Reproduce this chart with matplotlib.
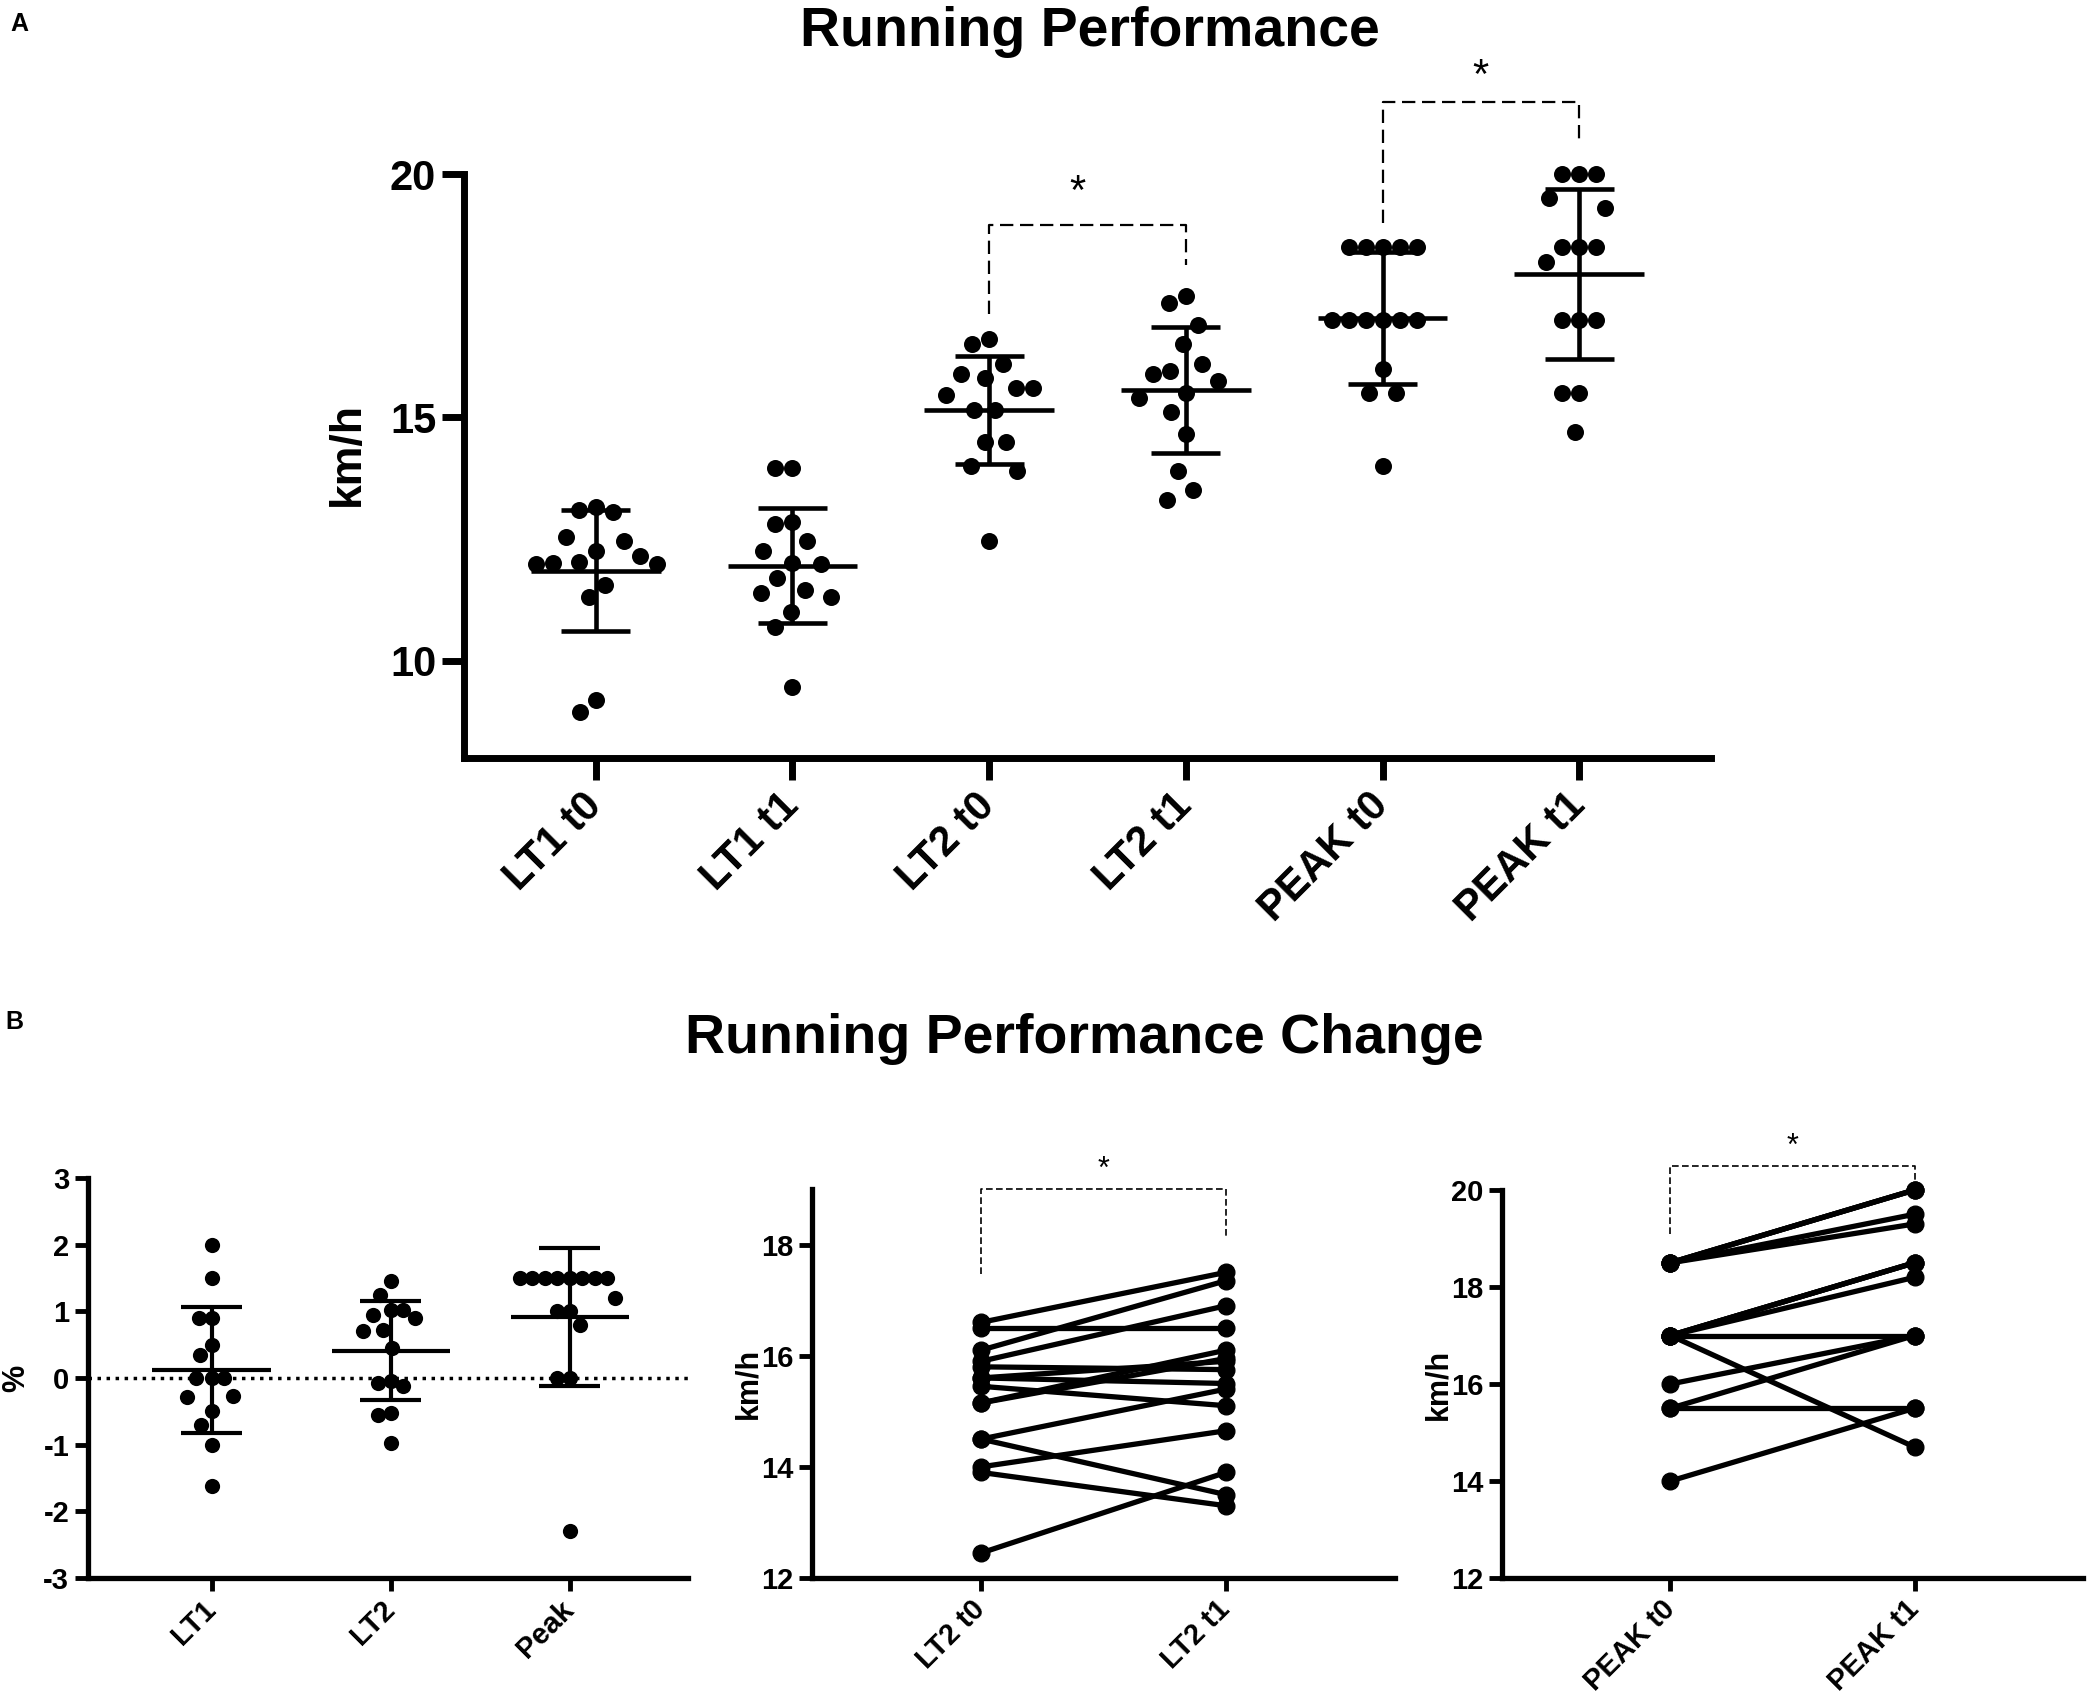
import numpy as np
import matplotlib
matplotlib.use('Agg')
import matplotlib.pyplot as plt

plt.rcParams['font.family'] = ['Liberation Sans', 'DejaVu Sans']
plt.rcParams['font.weight'] = 'bold'
plt.rcParams['axes.unicode_minus'] = False

# ---------------- data ----------------
top_categories = ['LT1 t0', 'LT1 t1', 'LT2 t0', 'LT2 t1', 'PEAK t0', 'PEAK t1']
lt1_t0 = [13.1, 13.05, 13.15, 12.45, 12.55, 12.25, 12.15, 12.0, 11.98, 11.98, 12.03, 11.55, 11.3, 8.95, 9.2]
lt1_t1 = [13.95, 13.95, 12.8, 12.85, 12.45, 12.25, 12.0, 11.98, 11.7, 11.45, 11.4, 11.3, 11.0, 10.7, 9.45]
# LT2 and PEAK listed per subject (paired t0 / t1)
lt2_t0 = [16.6, 16.5, 16.1, 15.9, 15.8, 15.6, 15.6, 15.45, 15.15, 15.15, 14.5, 14.5, 14.0, 13.9, 12.45]
lt2_t1 = [17.5, 16.5, 17.35, 16.9, 15.75, 15.9, 15.5, 15.1, 16.1, 15.95, 15.4, 13.5, 14.65, 13.3, 13.9]
peak_t0 = [18.5, 18.5, 18.5, 18.5, 18.5, 17.0, 17.0, 17.0, 17.0, 17.0, 17.0, 16.0, 15.5, 15.5, 14.0]
peak_t1 = [20.0, 20.0, 20.0, 19.5, 19.3, 18.5, 18.5, 18.5, 18.2, 17.0, 14.7, 17.0, 17.0, 15.5, 15.5]

change_categories = ['LT1', 'LT2', 'Peak']
change_lt1 = [2.0, 1.5, 0.9, 0.9, 0.5, 0.35, 0.0, 0.0, 0.0, -0.27, -0.28, -0.5, -0.7, -1.0, -1.62]
change_lt2 = [1.45, 1.25, 1.02, 1.02, 0.95, 0.9, 0.7, 0.72, 0.45, -0.04, -0.08, -0.12, -0.52, -0.55, -0.98]
change_peak = [1.5, 1.5, 1.5, 1.5, 1.5, 1.5, 1.5, 1.5, 1.2, 1.0, 1.0, 0.8, 0.0, 0.0, -2.3]

lt2_labels = ['LT2 t0', 'LT2 t1']
peak_labels = ['PEAK t0', 'PEAK t1']

W, H = 2093, 1693
fig = plt.figure(figsize=(W / 100, H / 100), dpi=100)


def swarm_offsets(values, px_x, px_y, spacing, ycomp):
    """Beeswarm layout; vertical distances are compressed by ycomp so points
    spread sideways like GraphPad's scatter."""
    vals = np.asarray(values, dtype=float)
    order = np.argsort(-vals, kind='stable')
    placed = []
    offs = np.zeros(len(vals))
    for i in order:
        y = vals[i] * px_y * ycomp
        cands = [0.0]
        for (px, py) in placed:
            dy = y - py
            if abs(dy) < spacing:
                dx = np.sqrt(spacing ** 2 - dy ** 2)
                cands += [px + dx, px - dx]
        cands = sorted(cands, key=lambda c: (round(abs(c), 6), c))
        for c in cands:
            if all((c - px) ** 2 + (y - py) ** 2 >= spacing ** 2 - 1e-6 for px, py in placed):
                offs[i] = c / px_x
                placed.append((c, y))
                break
    return offs


def style_axes(ax, lw, tl, tw, fs):
    for s in ['top', 'right']:
        ax.spines[s].set_visible(False)
    for s in ['left', 'bottom']:
        ax.spines[s].set_linewidth(lw)
    ax.tick_params(axis='both', direction='out', length=tl, width=tw, labelsize=fs, pad=4)
    for lab in ax.get_yticklabels():
        lab.set_fontweight('bold')


def scatter_group(ax, pos, vals, px_x, px_y, spacing, ycomp, s, mean_hw, cap_hw, lw):
    offs = swarm_offsets(vals, px_x, px_y, spacing, ycomp)
    ax.scatter(pos + offs, vals, s=s, color='black', zorder=3, clip_on=False, linewidths=0)
    m = np.mean(vals)
    sd = np.std(vals, ddof=1)
    ax.plot([pos - mean_hw, pos + mean_hw], [m, m], color='black', lw=lw, solid_capstyle='butt', zorder=4)
    ax.plot([pos, pos], [m - sd, m + sd], color='black', lw=lw, solid_capstyle='butt', zorder=4)
    for yy in (m - sd, m + sd):
        ax.plot([pos - cap_hw, pos + cap_hw], [yy, yy], color='black', lw=lw, solid_capstyle='butt', zorder=4)


# ---------------- panel A ----------------
axA_box = [464, 174, 1711, 758]
axA = fig.add_axes([axA_box[0] / W, 1 - axA_box[3] / H, (axA_box[2] - axA_box[0]) / W, (axA_box[3] - axA_box[1]) / H])
xlimA = (-0.67, 5.67)
ylimA = (8, 20)
axA.set_xlim(*xlimA)
axA.set_ylim(*ylimA)
pxA_x = (axA_box[2] - axA_box[0]) / (xlimA[1] - xlimA[0])
pxA_y = (axA_box[3] - axA_box[1]) / (ylimA[1] - ylimA[0])

groups = [lt1_t0, lt1_t1, lt2_t0, lt2_t1, peak_t0, peak_t1]
for i, g in enumerate(groups):
    scatter_group(axA, i, g, pxA_x, pxA_y, 17.0, 0.42, 150, 0.33, 0.175, 3.3)

axA.set_yticks([10, 15, 20])
axA.set_xticks(range(len(top_categories)))
axA.set_xticklabels(top_categories, rotation=45, ha='right', va='center', rotation_mode='anchor', fontweight='bold')
style_axes(axA, 5, 16, 5, 30)
axA.tick_params(axis='x', pad=14)
axA.set_ylabel('km/h', fontsize=32, fontweight='bold')
axA.yaxis.set_label_coords(-0.077, 0.52)

dashA = dict(color='black', lw=1.6, ls=(0, (6, 3)), clip_on=False)
axA.plot([2, 2, 3, 3], [17.12, 18.96, 18.96, 18.14], **dashA)
axA.text(2.45, 19.6, '*', fontsize=30, fontweight='normal', ha='center', va='center')
axA.plot([4, 4, 5, 5], [19.0, 21.48, 21.48, 20.6], **dashA)
axA.text(4.5, 22.0, '*', fontsize=30, fontweight='normal', ha='center', va='center')

fig.text(1090 / W, 1 - 32 / H, 'Running Performance', fontsize=40, fontweight='bold', ha='center', va='center')
fig.text(19 / W, 1 - 24 / H, 'A', fontsize=18, fontweight='bold', ha='center', va='center')

# ---------------- panel B ----------------
fig.text(1084 / W, 1 - 1039 / H, 'Running Performance Change', fontsize=40, fontweight='bold', ha='center', va='center')
fig.text(14 / W, 1 - 1022 / H, 'B', fontsize=18, fontweight='bold', ha='center', va='center')

# left: % change
axL_box = [88, 1178, 688, 1578]
axL = fig.add_axes([axL_box[0] / W, 1 - axL_box[3] / H, (axL_box[2] - axL_box[0]) / W, (axL_box[3] - axL_box[1]) / H])
xlimL = (-0.69, 2.66)
ylimL = (-3, 3)
axL.set_xlim(*xlimL)
axL.set_ylim(*ylimL)
pxL_x = (axL_box[2] - axL_box[0]) / (xlimL[1] - xlimL[0])
pxL_y = (axL_box[3] - axL_box[1]) / (ylimL[1] - ylimL[0])
axL.axhline(0, color='black', lw=2.5, ls=(0, (1, 1.6)), zorder=1)
for i, g in enumerate([change_lt1, change_lt2, change_peak]):
    scatter_group(axL, i, g, pxL_x, pxL_y, 12.5, 0.5, 120, 0.33, 0.17, 3.0)
axL.set_yticks([-3, -2, -1, 0, 1, 2, 3])
axL.set_xticks(range(len(change_categories)))
axL.set_xticklabels(change_categories, rotation=45, ha='right', va='center', rotation_mode='anchor', fontweight='bold')
style_axes(axL, 3.8, 9.5, 3.5, 21)
axL.tick_params(axis='x', pad=10)
axL.set_ylabel('%', fontsize=22, fontweight='bold')
axL.yaxis.set_label_coords(-0.095, 0.5)


def paired_panel(box, ylim, yticks, t0, t1, labels, brk, star_y):
    ax = fig.add_axes([box[0] / W, 1 - box[3] / H, (box[2] - box[0]) / W, (box[3] - box[1]) / H])
    ax.set_xlim(-0.69, 1.69)
    ax.set_ylim(*ylim)
    for a, b in zip(t0, t1):
        ax.plot([0, 1], [a, b], color='black', lw=3.8, marker='o', ms=12, clip_on=False, zorder=3)
    ax.set_yticks(yticks)
    ax.set_xticks([0, 1])
    ax.set_xticklabels(labels, rotation=45, ha='right', va='center', rotation_mode='anchor', fontweight='bold')
    style_axes(ax, 3.8, 9.5, 3.5, 21)
    ax.tick_params(axis='x', pad=10)
    ax.set_ylabel('km/h', fontsize=22, fontweight='bold')
    ax.yaxis.set_label_coords(-0.084, 0.5)
    ax.plot([0, 0, 1, 1], brk, color='black', lw=1.2, ls=(0, (4, 2)), clip_on=False)
    ax.text(0.5, star_y, '*', fontsize=22, fontweight='normal', ha='center', va='center')
    return ax


axM = paired_panel([812, 1189, 1395, 1578], (12, 19), [12, 14, 16, 18], lt2_t0, lt2_t1, lt2_labels,
                   [17.47, 19.0, 19.0, 18.13], 19.35)
axR = paired_panel([1502, 1190, 2083, 1578], (12, 20), [12, 14, 16, 18, 20], peak_t0, peak_t1, peak_labels,
                   [19.1, 20.5, 20.5, 20.14], 20.88)

fig.savefig('out.png', dpi=100)
